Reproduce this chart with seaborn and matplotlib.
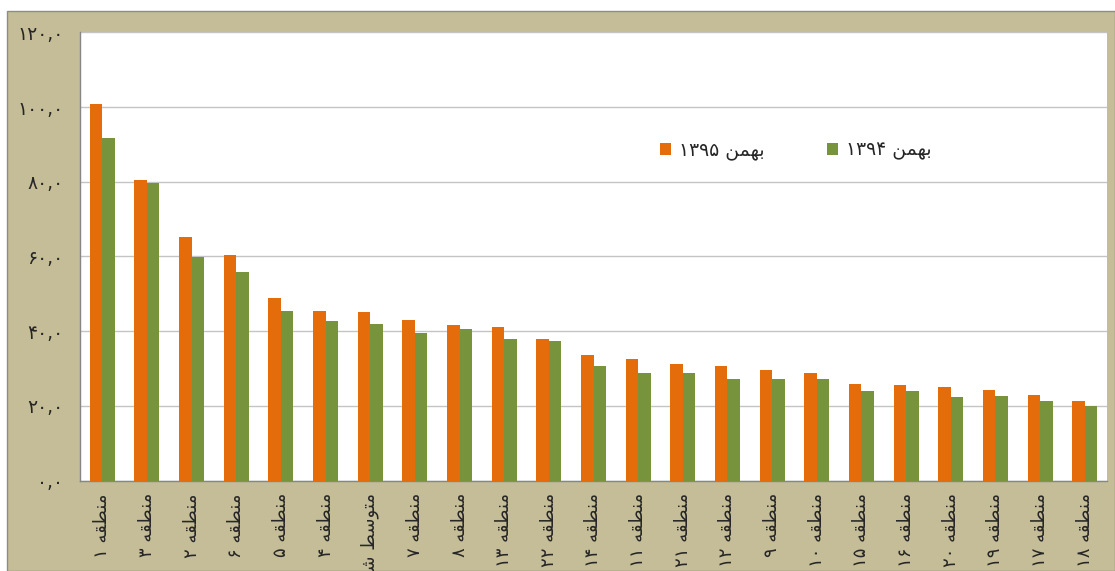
import numpy as np
import pandas as pd
import matplotlib
matplotlib.use("Agg")
import matplotlib.pyplot as plt
import seaborn as sns
from matplotlib.patches import Rectangle

# data
regions = ["منطقه ۱", "منطقه ۳", "منطقه ۲", "منطقه ۶", "منطقه ۵", "منطقه ۴", "متوسط شهر",
           "منطقه ۷", "منطقه ۸", "منطقه ۱۳", "منطقه ۲۲", "منطقه ۱۴", "منطقه ۱۱", "منطقه ۲۱",
           "منطقه ۱۲", "منطقه ۹", "منطقه ۱۰", "منطقه ۱۵", "منطقه ۱۶", "منطقه ۲۰", "منطقه ۱۹",
           "منطقه ۱۷", "منطقه ۱۸"]
bahman_1395 = [100.9, 80.4, 65.3, 60.4, 49.0, 45.5, 45.1, 43.1, 41.7, 41.0, 37.8, 33.6,
               32.5, 31.3, 30.6, 29.7, 28.7, 26.0, 25.6, 25.1, 24.2, 22.9, 21.2]
bahman_1394 = [91.7, 79.7, 59.9, 55.8, 45.3, 42.8, 42.0, 39.4, 40.6, 38.0, 37.4, 30.6,
               28.7, 28.7, 27.1, 27.1, 27.1, 24.0, 24.0, 22.4, 22.6, 21.2, 19.9]
series_names = ["بهمن ۱۳۹۵", "بهمن ۱۳۹۴"]
yticks = [0, 20, 40, 60, 80, 100, 120]

ORANGE = "#E46C0A"
GREEN = "#77933C"
KHAKI = "#C4BD97"

# matplotlib has no arabic shaping -> minimal reshaper for the letters used here
FORMS = {
    "ب": ("\ufe8f", "\ufe90", "\ufe91", "\ufe92"),
    "ت": ("\ufe95", "\ufe96", "\ufe97", "\ufe98"),
    "س": ("\ufeb1", "\ufeb2", "\ufeb3", "\ufeb4"),
    "ش": ("\ufeb5", "\ufeb6", "\ufeb7", "\ufeb8"),
    "ط": ("\ufec1", "\ufec2", "\ufec3", "\ufec4"),
    "ق": ("\ufed5", "\ufed6", "\ufed7", "\ufed8"),
    "م": ("\ufee1", "\ufee2", "\ufee3", "\ufee4"),
    "ن": ("\ufee5", "\ufee6", "\ufee7", "\ufee8"),
    "ه": ("\ufee9", "\ufeea", "\ufeeb", "\ufeec"),
    "ر": ("\ufead", "\ufeae", "\ufead", "\ufeae"),
    "و": ("\ufeed", "\ufeee", "\ufeed", "\ufeee"),
}
RIGHT_ONLY = set("رو")


def shape_word(word):
    out = []
    for i, ch in enumerate(word):
        if ch not in FORMS:
            out.append(ch)
            continue
        prev = word[i - 1] if i > 0 else None
        nxt = word[i + 1] if i < len(word) - 1 else None
        join_prev = prev in FORMS and prev not in RIGHT_ONLY
        join_next = nxt in FORMS and ch not in RIGHT_ONLY
        iso, fin, ini, med = FORMS[ch]
        if join_prev and join_next:
            out.append(med)
        elif join_prev:
            out.append(fin)
        elif join_next:
            out.append(ini)
        else:
            out.append(iso)
    return "".join(reversed(out))


def fa(text):
    tokens = []
    for t in text.split(" "):
        tokens.append(shape_word(t) if any(c in FORMS for c in t) else t)
    return " ".join(reversed(tokens))


FA_DIGITS = str.maketrans("0123456789.", "۰۱۲۳۴۵۶۷۸۹,")

df = pd.DataFrame({
    "region": [fa(r) for r in regions] * 2,
    "value": bahman_1395 + bahman_1394,
    "year": [fa(series_names[0])] * len(regions) + [fa(series_names[1])] * len(regions),
})

sns.set_style("white")
plt.rcParams["font.family"] = ["DejaVu Sans"]

fig = plt.figure(figsize=(11.15, 5.71), dpi=100)
fig.patch.set_facecolor("white")
fig.patches.append(Rectangle((7 / 1115, 0), 1 - 7 / 1115, 1 - 11 / 571, transform=fig.transFigure,
                             facecolor=KHAKI, edgecolor="#8c8c8c", linewidth=1, zorder=-10))

ax = fig.add_axes([80 / 1115, 1 - 480.7 / 571, 1027 / 1115, 448.4 / 571])
ax.set_facecolor("white")

sns.barplot(data=df, x="region", y="value", hue="year",
            hue_order=[fa(series_names[0]), fa(series_names[1])],
            palette=[ORANGE, GREEN], width=0.56, gap=0, saturation=1,
            errorbar=None, linewidth=0, ax=ax, zorder=3)

ax.set_xlim(-0.5, len(regions) - 0.5)
ax.set_ylim(0, 120)
ax.set_yticks(yticks)
ax.set_yticklabels([f"{v:.1f}".translate(FA_DIGITS) for v in yticks], fontsize=13.5)
ax.yaxis.grid(True, color="#c4c4c4", linewidth=1, zorder=0)
ax.set_axisbelow(True)

ax.set_xticks(np.arange(len(regions)))
ax.set_xticklabels(ax.get_xticklabels(), rotation=90, fontsize=13, va="top", ha="center")
ax.set_xticks(np.arange(-0.5, len(regions), 1), minor=True)
ax.tick_params(axis="x", which="major", length=0, pad=9)
ax.tick_params(axis="x", which="minor", length=5, color="#868686", width=1)
ax.tick_params(axis="y", length=5, color="#868686", width=1, pad=7)

ax.set_xlabel("")
ax.set_ylabel("")
for side in ["top", "right"]:
    ax.spines[side].set_visible(False)
for side in ["left", "bottom"]:
    ax.spines[side].set_color("#868686")
    ax.spines[side].set_linewidth(1)

handles, labels = ax.get_legend_handles_labels()
ax.legend(handles, labels, loc="center", bbox_to_anchor=(0.697, 0.737), ncol=2, frameon=False,
          fontsize=13.5, handlelength=0.6, handleheight=0.6, handletextpad=0.45, columnspacing=3.3)

fig.savefig("out.png", dpi=100)
